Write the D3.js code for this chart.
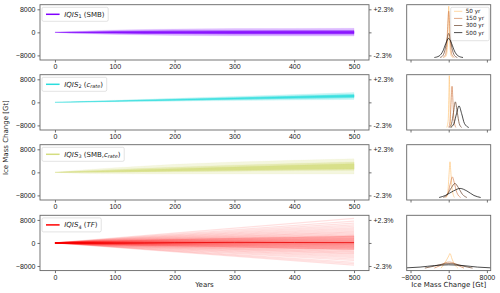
<!DOCTYPE html>
<html>
<head>
<meta charset="utf-8">
<script src="https://cdnjs.cloudflare.com/ajax/libs/d3/7.8.5/d3.min.js"></script>
<style>
body { margin: 0; background: #fff; }
svg { font-family: "DejaVu Sans", sans-serif; }
.axis text { font-size: 7px; fill: #1a1a1a; }
.axis path { display: none; }
.axis line { stroke: #333; stroke-width: 0.7; }
.frame { fill: none; stroke: #666; stroke-width: 0.9; }
</style>
</head>
<body>
<div id="chart"></div>
<script>
var years = [0, 25, 50, 100, 150, 200, 300, 400, 500];

// IQIS1 (SMB) ensemble spread [Gt]
var smbMin = [0, -300, -480, -750, -950, -1100, -1250, -1300, -1300];
var smbP10 = [0, -150, -250, -430, -540, -600, -650, -700, -700];
var smbP25 = [0, -80, -130, -220, -280, -320, -360, -380, -400];
var smbP75 = [0, 80, 130, 220, 280, 320, 350, 370, 380];
var smbP90 = [0, 150, 250, 450, 550, 600, 650, 700, 700];
var smbMax = [0, 300, 500, 800, 1000, 1150, 1300, 1350, 1400];

// IQIS2 (c_rate)
var crMin = [0, 30, 70, 180, 280, 400, 600, 800, 1000];
var crP10 = [0, 70, 140, 300, 460, 620, 940, 1260, 1550];
var crP25 = [0, 90, 180, 370, 560, 750, 1120, 1500, 1850];
var crP75 = [0, 130, 260, 510, 760, 1010, 1520, 2030, 2550];
var crP90 = [0, 150, 300, 580, 860, 1150, 1700, 2250, 2800];
var crMax = [0, 200, 380, 720, 1060, 1400, 2060, 2720, 3400];

// IQIS3 (SMB, c_rate)
var bothMin = [0, -250, -400, -500, -550, -550, -550, -550, -550];
var bothP10 = [0, -60, -60, 0, 100, 200, 400, 600, 700];
var bothP25 = [0, 30, 80, 200, 330, 450, 700, 950, 1200];
var bothP75 = [0, 180, 330, 640, 950, 1250, 1850, 2450, 3000];
var bothP90 = [0, 300, 550, 1000, 1400, 1800, 2500, 3100, 3600];
var bothMax = [0, 500, 900, 1600, 2200, 2800, 3600, 4200, 4700];

// IQIS4 (TF): member values at year 500, each member starts at 0
var tfEnd = [8500, 7600, 6900, 6300, 5800, 5300, 4900, 4500, 4100, 3800, 3500, 3200,
  2900, 2600, 2300, 2100, 1800, 1600, 1400, 1200, 1000, 800, 600, 450, 300, 150, 50,
  -100, -250, -400, -550, -700, -900, -1100, -1300, -1500, -1700, -1900, -2200, -2400,
  -2700, -3000, -3300, -3600, -3900, -4300, -4700, -5100, -5600, -6100, -6700, -7200, -7700];
var tfP20 = [0, -200, -350, -650, -900, -1100, -1500, -1900, -2300];
var tfP80 = [0, 200, 380, 700, 1000, 1250, 1700, 2100, 2500];
var tfMedian = [0, 0, -30, -60, 0, 100, 200, 150, 100];

// distributions of ice mass change at 50/150/300/500 yr, [Gt, density (arb.)]
var kdeLabels = ["50 yr", "150 yr", "300 yr", "500 yr"];
var kde1_50 = [[-900, 0], [-500, 0.4], [-250, 2.5], [-100, 7], [0, 10.2], [100, 7], [250, 2.5], [500, 0.4], [900, 0]];
var kde1_150 = [[-1200, 0], [-700, 0.5], [-400, 2.5], [-150, 7.3], [0, 9.2], [150, 7.3], [400, 2.5], [700, 0.5], [1200, 0]];
var kde1_300 = [[-1800, 0], [-1200, 0.4], [-700, 1.8], [-300, 3.9], [0, 4.8], [300, 3.9], [700, 1.8], [1200, 0.4], [1800, 0]];
var kde1_500 = [[-3000, 0], [-2000, 0.3], [-1200, 1.3], [-600, 2.8], [0, 3.8], [600, 2.8], [1200, 1.3], [2000, 0.3], [3000, 0]];
var kde2_50 = [[-400, 0], [-100, 1.5], [50, 7], [130, 10.3], [220, 7], [350, 1.5], [650, 0]];
var kde2_150 = [[0, 0], [300, 1.5], [500, 5], [700, 8.2], [900, 5], [1100, 1.5], [1500, 0]];
var kde2_300 = [[100, 0], [600, 0.8], [1000, 3], [1390, 5.1], [1800, 3], [2200, 0.8], [2700, 0]];
var kde2_500 = [[400, 0], [1100, 0.8], [1650, 2.8], [2160, 4.3], [2700, 2.8], [3300, 0.8], [4200, 0]];
var kde3_50 = [[-500, 0], [-150, 1.5], [100, 5], [270, 7.1], [450, 5], [750, 1.5], [1200, 0]];
var kde3_150 = [[-700, 0], [-100, 1], [400, 3], [760, 4.1], [1150, 3], [1700, 1], [2500, 0]];
var kde3_300 = [[-1100, 0], [-300, 0.6], [600, 2], [1300, 2.8], [2000, 2], [2900, 0.6], [3800, 0]];
var kde3_500 = [[-2000, 0], [-700, 0.4], [1000, 1.3], [2400, 1.8], [3800, 1.3], [5300, 0.4], [6700, 0]];
var kde4_50 = [[-1600, 0], [-700, 1.2], [0, 2.4], [270, 2.9], [700, 1.8], [1200, 0.8], [1900, 0]];
var kde4_150 = [[-3000, 0], [-1800, 0.5], [-600, 1.1], [200, 1.2], [1000, 1.0], [2000, 0.5], [3200, 0]];
var kde4_300 = [[-5000, 0], [-3000, 0.4], [-1000, 0.85], [300, 0.9], [1500, 0.8], [3000, 0.4], [5000, 0]];
var kde4_500 = [[-8800, 0.05], [-6000, 0.2], [-3000, 0.5], [0, 0.65], [3000, 0.5], [6000, 0.2], [8800, 0.05]];

var yearTicks = [0, 100, 200, 300, 400, 500];
var massTicks = [-8000, 0, 8000];
var pctLabels = ["-2.3%", "", "+2.3%"];

// legend labels, pieces: [text, italic, subscript]
var legend1 = [["IQIS", 1, 0], ["1", 0, 1], [" (SMB)", 0, 0]];
var legend2 = [["IQIS", 1, 0], ["2", 0, 1], [" (", 0, 0], ["c", 1, 0], ["rate", 1, 1], [")", 0, 0]];
var legend3 = [["IQIS", 1, 0], ["3", 0, 1], [" (SMB,", 0, 0], ["c", 1, 0], ["rate", 1, 1], [")", 0, 0]];
var legend4 = [["IQIS", 1, 0], ["4", 0, 1], [" (", 0, 0], ["TF", 1, 0], [")", 0, 0]];

var panels = [
  {color: "#8000ff", bands: [[smbMin, smbMax], [smbP10, smbP90], [smbP25, smbP75]], legend: legend1, kde: [kde1_50, kde1_150, kde1_300, kde1_500]},
  {color: "#2adddd", bands: [[crMin, crMax], [crP10, crP90], [crP25, crP75]], legend: legend2, kde: [kde2_50, kde2_150, kde2_300, kde2_500]},
  {color: "#d4dd80", bands: [[bothMin, bothMax], [bothP10, bothP90], [bothP25, bothP75]], legend: legend3, kde: [kde3_50, kde3_150, kde3_300, kde3_500]},
  {color: "#ff0000", bands: [[tfP20, tfP80]], legend: legend4, kde: [kde4_50, kde4_150, kde4_300, kde4_500], members: tfEnd, median: tfMedian}
];
var bandOpacity = [0.25, 0.45, 0.8];
// copper colormap, light to dark
var kdeColors = ["#ffc77f", "#d48555", "#6a422a", "#000000"];

var width = 500, height = 293;
var leftRange = [40, 369], rightRange = [406.7, 490.7];
var tops = [4.7, 74.7, 144.7, 215.3], panelH = 55.3;

var svg = d3.select("#chart").append("svg")
    .attr("width", width)
    .attr("height", height);

var x = d3.scaleLinear().domain([-25, 525]).range(leftRange);
var xr = d3.scaleLinear().domain([-8800, 8800]).range(rightRange);
var fmt = function(d) { return d < 0 ? "\u2212" + Math.abs(d) : d; };

panels.forEach(function(p, i) {
  var top = tops[i], bottom = top + panelH;
  var y = d3.scaleLinear().domain([-9600, 9600]).range([bottom, top]);

  svg.append("clipPath").attr("id", "clip" + i)
    .append("rect").attr("x", leftRange[0]).attr("y", top)
    .attr("width", leftRange[1] - leftRange[0]).attr("height", panelH);
  var g = svg.append("g").attr("clip-path", "url(#clip" + i + ")");

  // ensemble spread
  p.bands.forEach(function(b, j) {
    var op = p.members ? 0.2 : bandOpacity[j];
    var area = d3.area()
      .x(function(d, k) { return x(years[k]); })
      .y0(function(d, k) { return y(b[0][k]); })
      .y1(function(d, k) { return y(b[1][k]); });
    g.append("path").attr("d", area(years))
      .attr("fill", p.color).attr("fill-opacity", op)
      .attr("stroke", p.color).attr("stroke-opacity", op * 0.5).attr("stroke-width", 0.6);
  });

  if (p.members) {
    p.members.forEach(function(v) {
      g.append("path").attr("d", d3.line()([[x(0), y(0)], [x(500), y(v)]]))
        .attr("stroke", p.color).attr("stroke-opacity", 0.12).attr("stroke-width", 1.2).attr("fill", "none");
    });
    var med = d3.line()
      .x(function(d, k) { return x(years[k]); })
      .y(function(d) { return y(d); });
    g.append("path").attr("d", med(p.median))
      .attr("stroke", "#e80000").attr("stroke-width", 0.8).attr("fill", "none");
  }

  // axes
  svg.append("g").attr("class", "axis")
    .attr("transform", "translate(0," + bottom + ")")
    .call(d3.axisBottom(x).tickValues(yearTicks).tickSize(2.5).tickPadding(1.8));
  svg.append("g").attr("class", "axis")
    .attr("transform", "translate(" + leftRange[0] + ",0)")
    .call(d3.axisLeft(y).tickValues(massTicks).tickFormat(fmt).tickSize(2.5).tickPadding(2));
  svg.append("g").attr("class", "axis")
    .attr("transform", "translate(" + leftRange[1] + ",0)")
    .call(d3.axisRight(y).tickValues(massTicks).tickFormat(function(d, k) { return pctLabels[k]; }).tickSize(2.5).tickPadding(2));
  svg.append("rect").attr("class", "frame")
    .attr("x", leftRange[0]).attr("y", top)
    .attr("width", leftRange[1] - leftRange[0]).attr("height", panelH);

  // legend
  var lg = svg.append("g").attr("transform", "translate(" + (leftRange[0] + 2) + "," + (top + 2.6) + ")");
  var box = lg.append("rect").attr("height", 14).attr("rx", 1.5)
    .attr("fill", "#fff").attr("fill-opacity", 0.8).attr("stroke", "#d0d0d0").attr("stroke-width", 0.6);
  lg.append("line").attr("x1", 4).attr("x2", 17.6).attr("y1", 7).attr("y2", 7)
    .attr("stroke", p.color).attr("stroke-width", 1.5);
  var txt = lg.append("text").attr("x", 22.3).attr("y", 9.5).style("font-size", "7px").attr("fill", "#1a1a1a");
  var shifted = false;
  p.legend.forEach(function(part) {
    var ts = txt.append("tspan").text(part[0]);
    if (part[1]) ts.style("font-style", "italic");
    if (part[2] && !shifted) { ts.attr("dy", 1.7).style("font-size", "4.9px"); shifted = true; }
    else if (part[2]) { ts.style("font-size", "4.9px"); }
    else if (shifted) { ts.attr("dy", -1.7); shifted = false; }
  });
  box.attr("width", txt.node().getComputedTextLength() + 26);

  // distribution panel
  var yr = d3.scaleLinear().domain([-0.5, 10.5]).range([bottom, top]);
  svg.append("clipPath").attr("id", "clipr" + i)
    .append("rect").attr("x", rightRange[0]).attr("y", top)
    .attr("width", rightRange[1] - rightRange[0]).attr("height", panelH);
  var gr = svg.append("g").attr("clip-path", "url(#clipr" + i + ")");
  var kline = d3.line()
    .x(function(d) { return xr(d[0]); })
    .y(function(d) { return yr(d[1]); })
    .curve(d3.curveMonotoneX);
  p.kde.forEach(function(k, j) {
    gr.append("path").attr("d", kline(k))
      .attr("fill", "none").attr("stroke", kdeColors[j]).attr("stroke-opacity", 0.7).attr("stroke-width", 1);
  });
  var ax = d3.axisBottom(xr).tickValues(massTicks).tickSize(2.5).tickPadding(1.8).tickFormat(fmt);
  if (i < 3) ax.tickFormat("");
  svg.append("g").attr("class", "axis")
    .attr("transform", "translate(0," + bottom + ")")
    .call(ax);
  svg.append("rect").attr("class", "frame")
    .attr("x", rightRange[0]).attr("y", top)
    .attr("width", rightRange[1] - rightRange[0]).attr("height", panelH);

  if (i === 0) {
    var rl = svg.append("g").attr("transform", "translate(450.7,7.3)");
    rl.append("rect").attr("width", 38.5).attr("height", 33.4).attr("rx", 1.5)
      .attr("fill", "#fff").attr("fill-opacity", 0.8).attr("stroke", "#d0d0d0").attr("stroke-width", 0.6);
    kdeLabels.forEach(function(l, j) {
      var yy = 4 + j * 7.1;
      rl.append("line").attr("x1", 3.3).attr("x2", 11.6).attr("y1", yy).attr("y2", yy)
        .attr("stroke", kdeColors[j]).attr("stroke-opacity", 0.7).attr("stroke-width", 1);
      rl.append("text").attr("x", 15).attr("y", yy + 2).text(l)
        .style("font-size", "5.7px").attr("fill", "#1a1a1a");
    });
  }
});

// axis titles
svg.append("text").attr("x", (leftRange[0] + leftRange[1]) / 2).attr("y", 287)
  .attr("text-anchor", "middle").style("font-size", "7px").attr("fill", "#1a1a1a").text("Years");
svg.append("text").attr("x", (rightRange[0] + rightRange[1]) / 2).attr("y", 287)
  .attr("text-anchor", "middle").style("font-size", "7px").attr("fill", "#1a1a1a").text("Ice Mass Change [Gt]");
svg.append("text").attr("transform", "translate(8," + (tops[0] + tops[3] + panelH) / 2 + ") rotate(-90)")
  .attr("text-anchor", "middle").style("font-size", "7px").attr("fill", "#1a1a1a").text("Ice Mass Change [Gt]");
</script>
</body>
</html>
